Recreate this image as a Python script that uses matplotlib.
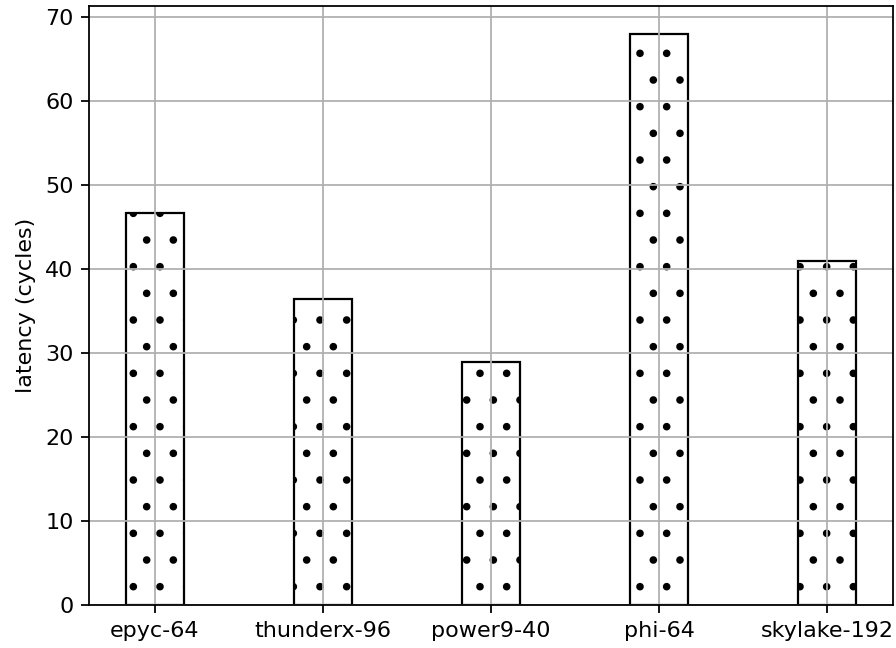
import matplotlib
matplotlib.use("Agg")
import matplotlib.pyplot as plt

categories = ["epyc-64", "thunderx-96", "power9-40", "phi-64", "skylake-192"]
latency = [46.7, 36.5, 28.9, 68.0, 40.95]

DPI = 160
fig = plt.figure(figsize=(896/DPI, 648/DPI), dpi=DPI)
ax = fig.add_axes([89/896, 1-605/648, (893-89)/896, (605-5.7)/648])
x = list(range(len(categories)))
ax.bar(x, latency, width=0.35, color="white", edgecolor="black", hatch=".", linewidth=1.0)
ax.set_xticks(x)
ax.set_xticklabels(categories)
ax.set_ylabel("latency (cycles)")
ax.grid(True)
fig.savefig("out.png", dpi=DPI)
